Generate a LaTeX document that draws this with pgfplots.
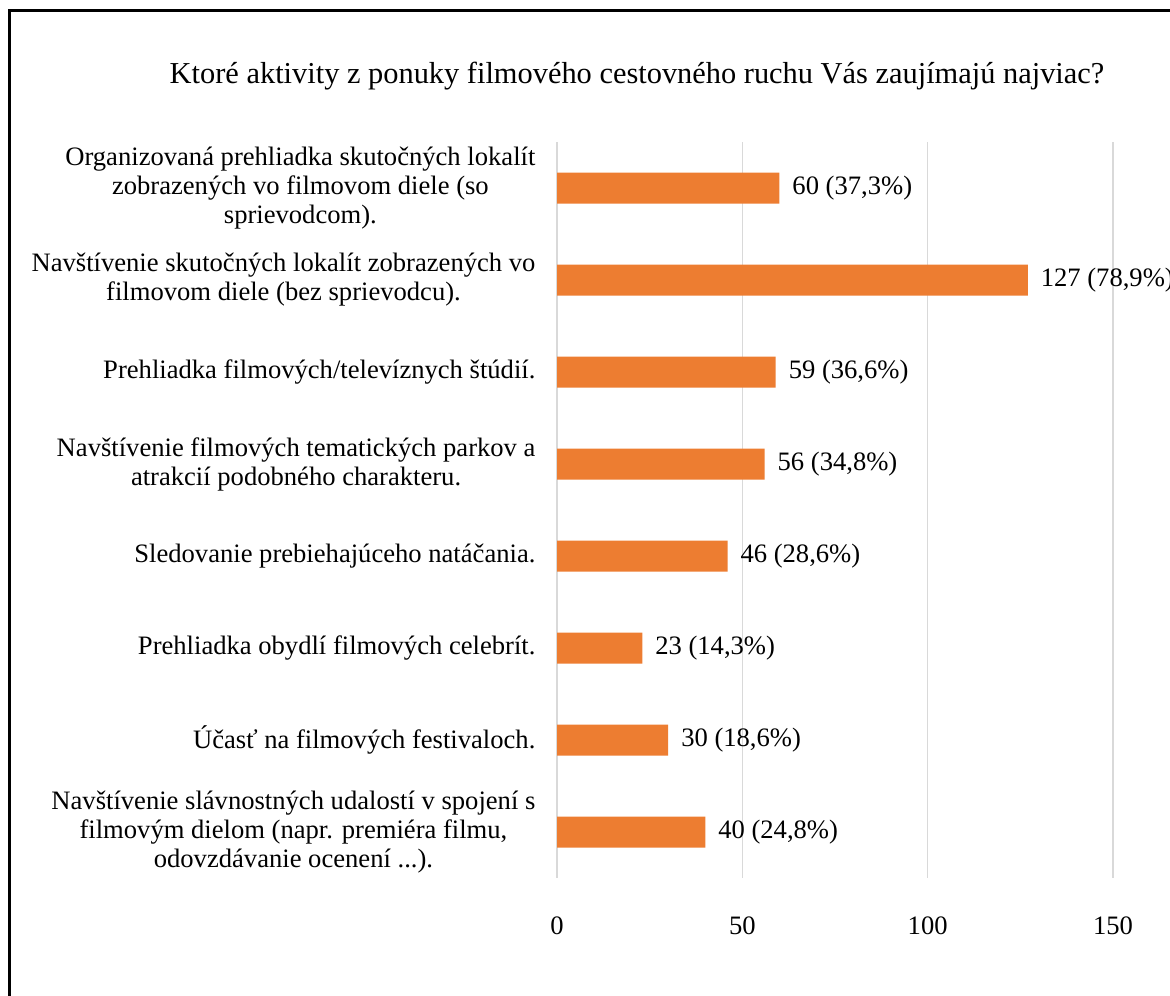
\documentclass[border=0pt]{standalone}
\usepackage{fontspec}
\setmainfont{Liberation Serif}
\usepackage{pgfplots}
\pgfplotsset{compat=1.18}
\definecolor{barorange}{HTML}{ED7D31}
\definecolor{gridgray}{HTML}{D9D9D9}
\begin{document}
\begin{tikzpicture}
\path[use as bounding box] (0,0) rectangle (585pt,497.5pt);
\draw[line width=1.5pt] (4.75pt,-20pt) -- (4.75pt,492pt) -- (620pt,492pt);
\node[font=\fontsize{15.2}{18}\selectfont] at (318.5pt,459.5pt) {Ktoré aktivity z ponuky filmového cestovného ruchu Vás zaujímajú najviac?};
\begin{axis}[
  at={(278.5pt,58.5pt)}, anchor=south west,
  scale only axis, width=278pt, height=368pt,
  xbar, bar width=15.5pt,
  xmin=0, xmax=150, ymin=0.5, ymax=8.5,
  y dir=reverse,
  clip=false,
  axis line style={draw=none},
  tick style={draw=none},
  xtick={0,50,100,150},
  xmajorgrids, major grid style={gridgray, line width=0.7pt},
  ytick={1,2,3,4,5,6,7,8},
  yticklabels={
    {Organizovaná prehliadka skutočných lokalít\\zobrazených vo filmovom diele (so\\sprievodcom).},
    {Navštívenie skutočných lokalít zobrazených vo\\filmovom diele (bez sprievodcu).},
    {Prehliadka filmových/televíznych štúdií.},
    {Navštívenie filmových tematických parkov a\\atrakcií podobného charakteru.},
    {Sledovanie prebiehajúceho natáčania.},
    {Prehliadka obydlí filmových celebrít.},
    {Účasť na filmových festivaloch.},
    {Navštívenie slávnostných udalostí v spojení s\\filmovým dielom (napr. premiéra filmu,\\odovzdávanie ocenení .\relax.\relax.).}},
  yticklabel style={align=center, anchor=east, font=\fontsize{13.3}{14.5}\selectfont},
  yticklabel shift=3pt,
  xticklabel style={font=\fontsize{13.3}{14.5}\selectfont},
  xticklabel shift=16pt,
  /pgf/number format/assume math mode=true,
  point meta=explicit symbolic,
  nodes near coords,
  every node near coord/.append style={anchor=west, xshift=3pt, font=\fontsize{13.3}{14.5}\selectfont, text=black},
]
\addplot[fill=barorange, draw=none] coordinates {
  (60,1) [60 (37,3\%)]
  (127,2) [127 (78,9\%)]
  (59,3) [59 (36,6\%)]
  (56,4) [56 (34,8\%)]
  (46,5) [46 (28,6\%)]
  (23,6) [23 (14,3\%)]
  (30,7) [30 (18,6\%)]
  (40,8) [40 (24,8\%)]
};
\end{axis}
\end{tikzpicture}
\end{document}
